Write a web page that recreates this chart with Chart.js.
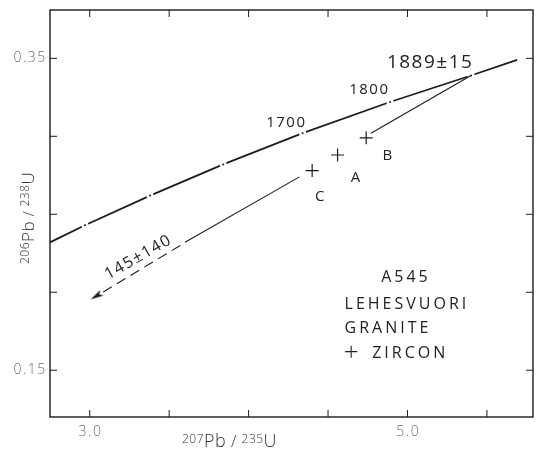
<!DOCTYPE html>
<html>
<head>
<meta charset="utf-8">
<script src="https://cdn.jsdelivr.net/npm/chart.js@4.4.0/dist/chart.umd.min.js"></script>
<style>
html, body { margin: 0; padding: 0; background: #fff; }
#wrap { width: 541px; height: 450px; }
</style>
</head>
<body>
<div id="wrap"><canvas id="concordia" width="541" height="450"></canvas></div>
<script>
// concordia at the age marks (Ma)
var concAges = [1340, 1400, 1500, 1600, 1700, 1800, 1889, 1930];
var concX = [2.75, 2.97, 3.38, 3.84, 4.34, 4.89, 5.40, 5.69];
var concY = [0.232, 0.243, 0.262, 0.282, 0.302, 0.322, 0.339, 0.349];
var markAges = [1400, 1500, 1600, 1700, 1800, 1889];

// zircon fractions
var fracNames = ['A', 'B', 'C'];
var fracX = [4.56, 4.74, 4.40];
var fracY = [0.288, 0.299, 0.278];

// discordia pieces: upper intercept -> B, C -> solid end, dashed -> towards lower intercept
var discUpperX = [5.40, 4.77];
var discUpperY = [0.339, 0.302];
var discLowerX = [4.32, 3.60];
var discLowerY = [0.274, 0.232];
var discDashX = [3.57, 3.044];
var discDashY = [0.230, 0.1977];

var xTicks = [3.0, 3.5, 4.0, 4.5, 5.0, 5.5];
var xTickLabels = ['3.0', '', '', '', '5.0', ''];
var yTicks = [0.15, 0.20, 0.25, 0.30, 0.35];
var yTickLabels = ['0.15', '', '', '', '0.35'];

var ink = '#1c1c1c';
var fam = '"Open Sans", "DejaVu Sans", sans-serif';

function pts(xs, ys) {
  return xs.map(function (x, i) { return { x: x, y: ys[i] }; });
}

var markPts = markAges.map(function (a) {
  var i = concAges.indexOf(a);
  return { x: concX[i], y: concY[i] };
});

// little arrow head, pointing right, rotated by chart.js
var arrow = document.createElement('canvas');
arrow.width = 14; arrow.height = 8;
var ac = arrow.getContext('2d');
ac.fillStyle = ink;
ac.beginPath();
ac.moveTo(14, 4); ac.lineTo(1, 0.8); ac.lineTo(4, 4); ac.lineTo(1, 7.2);
ac.closePath();
ac.fill();

function parts(ctx, list, x, y) {
  list.forEach(function (p) {
    ctx.font = '300 ' + p[1] + 'px ' + fam;
    ctx.fillText(p[0], x, y - p[2]);
    x += ctx.measureText(p[0]).width;
  });
}

function txt(ctx, s, x, y, size, spacing, align, weight) {
  ctx.font = (weight || 400) + ' ' + size + 'px ' + fam;
  ctx.letterSpacing = spacing + 'px';
  ctx.textAlign = align || 'center';
  ctx.fillText(s, x + (align === 'left' ? 0 : spacing / 2), y);
}

var frame = {
  id: 'frame',
  afterDatasetsDraw: function (chart) {
    var ctx = chart.ctx, a = chart.chartArea, sx = chart.scales.x, sy = chart.scales.y;
    function X(v) { return sx.getPixelForValue(v); }
    function Y(v) { return sy.getPixelForValue(v); }
    ctx.save();
    ctx.strokeStyle = ink;
    ctx.lineWidth = 1.4;
    ctx.strokeRect(a.left, a.top, a.right - a.left, a.bottom - a.top);
    ctx.lineWidth = 1;
    ctx.beginPath();
    xTicks.forEach(function (v) {
      ctx.moveTo(X(v), a.bottom); ctx.lineTo(X(v), a.bottom - 7);
      ctx.moveTo(X(v), a.top); ctx.lineTo(X(v), a.top + 7);
    });
    yTicks.forEach(function (v) {
      ctx.moveTo(a.left, Y(v)); ctx.lineTo(a.left + 7, Y(v));
      ctx.moveTo(a.right, Y(v)); ctx.lineTo(a.right - 7, Y(v));
    });
    ctx.stroke();

    // tick labels
    ctx.fillStyle = '#6e6e6e';
    ctx.textBaseline = 'middle';
    xTicks.forEach(function (v, i) {
      if (xTickLabels[i]) txt(ctx, xTickLabels[i], X(v), a.bottom + 15, 14, 1.5, 'center', 300);
    });
    yTicks.forEach(function (v, i) {
      if (yTickLabels[i]) txt(ctx, yTickLabels[i], a.left - 4, Y(v), 14, 1.5, 'right', 300);
    });

    // axis titles
    ctx.fillStyle = '#333';
    ctx.letterSpacing = '0.5px';
    ctx.textAlign = 'left';
    ctx.textBaseline = 'alphabetic';
    parts(ctx, [['207', 12, 4], ['Pb', 18, 0], [' / ', 16, 0], ['235', 12, 4], ['U', 18, 0]], 182, 447);
    ctx.save();
    ctx.translate(34, 264);
    ctx.rotate(-Math.PI / 2);
    parts(ctx, [['206', 12, 5], ['Pb', 17, 0], [' / ', 15, 0], ['238', 12, 5], ['U', 17, 0]], 0, 0);
    ctx.restore();

    // annotations
    ctx.fillStyle = '#222';
    ctx.textBaseline = 'middle';
    txt(ctx, '1700', X(4.233), Y(0.3085), 15, 1.5);
    txt(ctx, '1800', X(4.755), Y(0.3296), 15, 1.5);
    txt(ctx, '1889\u00b115', X(5.138), Y(0.3474), 19, 1.5);
    txt(ctx, fracNames[0], X(4.673), Y(0.2733), 15, 0);
    txt(ctx, fracNames[1], X(4.874), Y(0.2874), 15, 0);
    txt(ctx, fracNames[2], X(4.447), Y(0.2612), 15, 0);
    ctx.save();
    ctx.translate(X(3.302), Y(0.2222));
    ctx.rotate(-30 * Math.PI / 180);
    txt(ctx, '145\u00b1140', 0, 0, 16, 1.5);
    ctx.restore();
    txt(ctx, 'A545', X(4.981), Y(0.2094), 16, 3);
    txt(ctx, 'LEHESVUORI', X(4.604), Y(0.1924), 16, 3, 'left');
    txt(ctx, 'GRANITE', X(4.604), Y(0.1766), 16, 3, 'left');
    txt(ctx, '+', X(4.604) + 6.5, Y(0.1608), 26, 0, 'center', 300);
    txt(ctx, 'ZIRCON', X(4.778), Y(0.1608), 16, 3, 'left');
    ctx.restore();
  }
};

var ctx = document.getElementById('concordia').getContext('2d');
new Chart(ctx, {
  type: 'scatter',
  data: {
    datasets: [{
      label: 'zircon',
      data: pts(fracX, fracY),
      pointStyle: 'cross',
      pointRadius: 6.5,
      pointBorderWidth: 1.2,
      pointBorderColor: ink,
      order: 0
    }, {
      label: 'arrow',
      data: [{ x: discDashX[1], y: discDashY[1] }],
      pointStyle: arrow,
      pointRotation: 149.5,
      pointRadius: 5,
      order: 0
    }, {
      label: 'discordia upper',
      data: pts(discUpperX, discUpperY),
      showLine: true,
      borderColor: ink,
      borderWidth: 1.1,
      pointRadius: 0,
      order: 1
    }, {
      label: 'discordia lower',
      data: pts(discLowerX, discLowerY),
      showLine: true,
      borderColor: ink,
      borderWidth: 1.1,
      pointRadius: 0,
      order: 1
    }, {
      label: 'discordia dashed',
      data: pts(discDashX, discDashY),
      showLine: true,
      borderColor: ink,
      borderWidth: 1.1,
      borderDash: [10, 6],
      pointRadius: 0,
      order: 1
    }, {
      label: 'age dots',
      data: markPts,
      pointStyle: 'circle',
      pointRadius: 1,
      pointBackgroundColor: ink,
      pointBorderWidth: 0,
      order: 2
    }, {
      label: 'age gaps',
      data: markPts,
      pointStyle: 'line',
      pointRotation: -21,
      pointRadius: 3.5,
      pointBorderWidth: 4,
      pointBorderColor: '#fff',
      order: 3
    }, {
      label: 'concordia',
      data: pts(concX, concY),
      showLine: true,
      borderColor: ink,
      borderWidth: 1.8,
      pointRadius: 0,
      order: 4
    }]
  },
  options: {
    responsive: false,
    animation: false,
    devicePixelRatio: 1,
    layout: { padding: { left: 50, top: 10, right: 8, bottom: 33 } },
    scales: {
      x: { type: 'linear', display: false, min: 2.75, max: 5.79 },
      y: { type: 'linear', display: false, min: 0.12, max: 0.381 }
    },
    plugins: {
      legend: { display: false },
      tooltip: { enabled: false }
    }
  },
  plugins: [frame]
});
</script>
</body>
</html>
